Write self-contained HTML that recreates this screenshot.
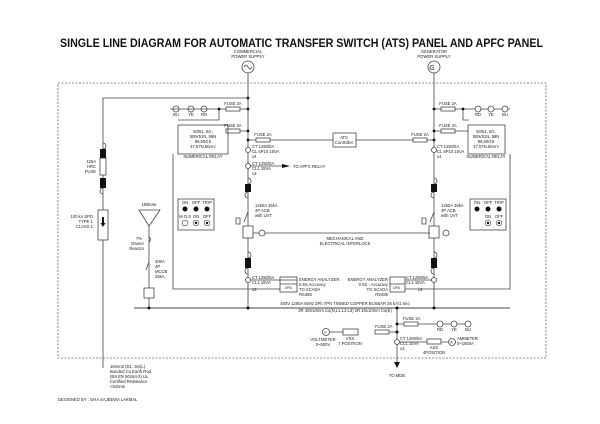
<!DOCTYPE html>
<html><head><meta charset="utf-8"><style>
html,body{margin:0;padding:0;background:#fff}
svg{display:block}
text{font-family:"Liberation Sans",sans-serif;fill:#222}
.s{font-size:4.2px}
</style></head><body>
<svg width="600" height="424" viewBox="0 0 600 424" xmlns="http://www.w3.org/2000/svg">
<rect width="600" height="424" fill="#fff"/>
<text x="60" y="47" textLength="483" lengthAdjust="spacingAndGlyphs" font-size="11.5" font-weight="bold" style="fill:#111">SINGLE LINE DIAGRAM FOR AUTOMATIC TRANSFER SWITCH (ATS) PANEL AND APFC PANEL</text>
<g stroke="#444" stroke-width="0.8" fill="none">
<rect x="58" y="83" width="488" height="275" stroke-dasharray="2,1.5" stroke="#666"/>
<circle cx="248" cy="67" r="6"/><path d="M244 67q2-4 4 0t4 0"/>
<circle cx="434" cy="67" r="6"/>
<path d="M248 73V308M434 73V308"/>
<path d="M248 98H103V368"/>
<path d="M170 109H248M219 109V120H178"/>
<circle cx="176" cy="109" r="3"/><circle cx="191" cy="109" r="3"/><circle cx="204" cy="109" r="3"/>
<rect x="226" y="107" width="14" height="4" fill="#fff"/>
<path d="M228 131H248"/><rect x="226" y="129" width="14" height="4" fill="#fff"/>
<rect x="178" y="125" width="50" height="29"/>
<path d="M248 140H333M356 140H434"/>
<rect x="256" y="138" width="14" height="4" fill="#fff"/>
<rect x="333" y="133" width="23" height="14" fill="#fff"/>
<rect x="413" y="138" width="14" height="4" fill="#fff"/>
<circle cx="248" cy="150" r="2.5" fill="#fff"/>
<circle cx="248" cy="166" r="2.5" fill="#fff"/>
<path d="M250 166H282"/>
<path d="M434 109H510M463 109V120H469"/>
<rect x="441" y="107" width="14" height="4" fill="#fff"/>
<circle cx="478" cy="109" r="3" fill="#fff"/><circle cx="491" cy="109" r="3" fill="#fff"/><circle cx="505" cy="109" r="3" fill="#fff"/>
<path d="M434 131H468"/><rect x="441" y="129" width="14" height="4" fill="#fff"/>
<rect x="468" y="125" width="37" height="29"/>
<circle cx="434" cy="150" r="2.5" fill="#fff"/>
<path d="M173 154V289H280M510 154V289H405"/>
<path d="M248 178a3 3 0 0 1 0 6M248 192a3 3 0 0 0 0 6M434 178a3 3 0 0 1 0 6M434 192a3 3 0 0 0 0 6"/>
<path d="M248 212l-4 10M434 212l-4 10M236 218h4v6h-4zM422 218h4v6h-4z"/>
<rect x="243" y="226" width="10" height="12" fill="#fff"/><rect x="429" y="226" width="10" height="12" fill="#fff"/>
<path d="M253 233H430"/>
<circle cx="262" cy="233" r="3" fill="#fff"/><circle cx="446" cy="233" r="3" fill="#fff"/>
<path d="M248 252a3 3 0 0 1 0 6M248 268a3 3 0 0 0 0 6M434 252a3 3 0 0 1 0 6M434 268a3 3 0 0 0 0 6"/>
<circle cx="248" cy="280" r="2.5" fill="#fff"/><circle cx="434" cy="280" r="2.5" fill="#fff"/>
<rect x="280" y="277" width="17" height="15" fill="#fff"/><path d="M280 284H297"/>
<rect x="390" y="277" width="15" height="15" fill="#fff"/><path d="M390 284H405"/>
<path d="M250 280H297M405 280H432"/>
<rect x="178" y="199" width="36" height="31"/><rect x="470" y="199" width="36" height="31"/>
<path d="M103 143a3 3 0 0 1 0 6M103 188a3 3 0 0 0 0 6"/>
<rect x="100" y="158" width="6" height="17" fill="#fff"/>
<rect x="98" y="210" width="10" height="30" fill="#fff"/>
<path d="M139 210H160L149 226Z"/>
<path d="M149 226V308M149 237a3 3 0 0 1 0 5M149 262l-3 8"/>
<rect x="144" y="288" width="10" height="10" fill="#fff"/>
<path d="M134 308H510" stroke-width="1"/>
<path d="M397 308V362"/>
<path d="M397 324H470M397 332H375M358 332H330M399 342H427M441 342H449"/>
<rect x="404" y="322" width="14" height="4" fill="#fff"/>
<circle cx="440" cy="324" r="3" fill="#fff"/><circle cx="454" cy="324" r="3" fill="#fff"/><circle cx="468" cy="324" r="3" fill="#fff"/>
<rect x="375" y="330" width="14" height="4" fill="#fff"/>
<rect x="343" y="329" width="15" height="6" fill="#fff"/>
<circle cx="326" cy="332" r="3.5" fill="#fff"/>
<circle cx="397" cy="342" r="2.5" fill="#fff"/>
<rect x="427" y="339" width="14" height="5" fill="#fff"/>
<circle cx="452" cy="342" r="3.5" fill="#fff"/>
</g>
<g fill="#111">
<rect x="245" y="184" width="6" height="8"/><rect x="431" y="184" width="6" height="8"/>
<rect x="245" y="258" width="6" height="10"/><rect x="431" y="258" width="6" height="10"/>
<rect x="100" y="149" width="6" height="9"/><rect x="100" y="178" width="6" height="10"/>
<circle cx="248" cy="98" r="1.4"/><circle cx="248" cy="109" r="1.4"/><circle cx="219" cy="109" r="1.4"/>
<circle cx="248" cy="131" r="1.4"/><circle cx="248" cy="140" r="1.4"/>
<circle cx="434" cy="109" r="1.4"/><circle cx="463" cy="109" r="1.4"/><circle cx="434" cy="131" r="1.4"/><circle cx="434" cy="140" r="1.4"/>
<circle cx="149" cy="308" r="1.5"/><circle cx="248" cy="308" r="1.5"/><circle cx="397" cy="308" r="1.5"/><circle cx="434" cy="308" r="1.5"/>
<circle cx="397" cy="324" r="1.5"/><circle cx="397" cy="332" r="1.5"/>
<path d="M282 164l8 2-8 2z"/><path d="M394 362h6l-3 6z"/><path d="M102 217h2v6h1.5l-2.5 4-2.5-4h1.5z"/>
<circle cx="185" cy="209" r="2.5"/><circle cx="196" cy="209" r="2.5"/><circle cx="207" cy="209" r="2.5"/>
<circle cx="477" cy="209" r="2.5"/><circle cx="488" cy="209" r="2.5"/><circle cx="499" cy="209" r="2.5"/>
<circle cx="196" cy="223" r="1.2"/><circle cx="207" cy="223" r="1.2"/><circle cx="488" cy="223" r="1.2"/><circle cx="499" cy="223" r="1.2"/>
</g>
<g fill="none" stroke="#444" stroke-width="0.6">
<circle cx="185" cy="223" r="2.8"/><circle cx="196" cy="223" r="2.8"/><circle cx="207" cy="223" r="2.8"/>
<circle cx="488" cy="223" r="2.8"/><circle cx="499" cy="223" r="2.8"/>
</g>
<g class="s">
<text x="248" y="53" text-anchor="middle">COMMERCIAL</text><text x="248" y="58" text-anchor="middle">POWER SUPPLY</text>
<text x="434" y="53" text-anchor="middle">GENERATOR</text><text x="434" y="58" text-anchor="middle">POWER SUPPLY</text>
<text x="432" y="70" text-anchor="middle" font-size="7">G</text>
<text x="233" y="105" text-anchor="middle">FUSE 2A</text><text x="233" y="127" text-anchor="middle">FUSE 2A</text>
<text x="263" y="136" text-anchor="middle">FUSE 2A</text><text x="420" y="136" text-anchor="middle">FUSE 2A</text>
<text x="448" y="105" text-anchor="middle">FUSE 2A</text><text x="448" y="127" text-anchor="middle">FUSE 2A</text>
<text x="344" y="139" text-anchor="middle">ATS</text><text x="344" y="144" text-anchor="middle">Controller</text>
<text x="176" y="116" text-anchor="middle">BU</text><text x="191" y="116" text-anchor="middle">YE</text><text x="204" y="116" text-anchor="middle">RD</text>
<text x="478" y="116" text-anchor="middle">RD</text><text x="491" y="116" text-anchor="middle">YE</text><text x="505" y="116" text-anchor="middle">BU</text>
<text x="203" y="133" text-anchor="middle">50/51, 6G,</text><text x="203" y="138" text-anchor="middle">50N/51N, 59N</text><text x="203" y="143" text-anchor="middle">86,50GS</text><text x="203" y="148" text-anchor="middle">47,67N,50Arc</text>
<text x="203" y="158" text-anchor="middle">NUMERICAL RELAY</text>
<text x="486" y="133" text-anchor="middle">50/51, 6G,</text><text x="486" y="138" text-anchor="middle">50N/51N, 59N</text><text x="486" y="143" text-anchor="middle">86,50GS</text><text x="486" y="148" text-anchor="middle">47,67N,50Arc</text>
<text x="486" y="158" text-anchor="middle">NUMERICAL RELAY</text>
<text x="252" y="148">CT 1250/5A</text><text x="252" y="153">CL 5P10 15VA</text><text x="252" y="158">x4</text>
<text x="437" y="148">CT 1250/5A</text><text x="437" y="153">CL 5P10 15VA</text><text x="437" y="158">x4</text>
<text x="252" y="165">CT 1250/5A</text><text x="252" y="170">CL1 15VA</text><text x="252" y="175">x3</text>
<text x="293" y="168">TO APFC RELAY</text>
<text x="255" y="207">1250A 35kA</text><text x="255" y="212">4P ACB</text><text x="255" y="217">with UVT</text>
<text x="441" y="207">1250A 35kA</text><text x="441" y="212">4P ACB</text><text x="441" y="217">with UVT</text>
<text x="345" y="240" text-anchor="middle">MECHANICAL AND</text><text x="345" y="245" text-anchor="middle">ELECTRICAL INTERLOCK</text>
<text x="252" y="279">CT 1250/5A</text><text x="252" y="284">CL1 15VA</text><text x="252" y="291">x3</text>
<text x="406" y="279">CT 1250/5A</text><text x="406" y="284">CL1 15VA</text><text x="418" y="291">x3</text>
<text x="299" y="281">ENERGY ANALYZER</text><text x="299" y="286">0.5S Accuracy</text><text x="299" y="291">TO SCADA</text><text x="299" y="296">RS485</text>
<text x="388" y="281" text-anchor="end">ENERGY ANALYZER</text><text x="388" y="286" text-anchor="end">0.5S - Accuracy</text><text x="388" y="291" text-anchor="end">TO SCADA</text><text x="388" y="296" text-anchor="end">RS485</text>
<text x="285" y="289" font-size="3.5">DPA</text><text x="393" y="289" font-size="3.5">DPA</text>
<text x="345" y="305" text-anchor="middle">400V 1250A 50Hz 3Ph TPN TINNED COPPER BUSBAR 36 kA/1 Sec</text>
<text x="345" y="312" text-anchor="middle">2R 40X10mm Cu(N,L1,L2,L3) 2R 10x10mm  Cu(E)</text>
<text x="96" y="163" text-anchor="end">125A</text><text x="96" y="168" text-anchor="end">HRC</text><text x="96" y="173" text-anchor="end">FUSE</text>
<text x="93" y="218" text-anchor="end">100 kA SPD</text><text x="93" y="223" text-anchor="end">TYPE 1</text><text x="93" y="228" text-anchor="end">CLASS 1</text>
<text x="149" y="206" text-anchor="middle">160kVar</text>
<text x="142" y="240" text-anchor="end">7%</text><text x="144" y="245" text-anchor="end">Dtuner</text><text x="144" y="250" text-anchor="end">Reactor</text>
<text x="155" y="263">400A</text><text x="155" y="268">4P</text><text x="155" y="273">MCCB</text><text x="155" y="278">25kA</text>
<text x="185" y="204" text-anchor="middle">ON</text><text x="196" y="204" text-anchor="middle">OFF</text><text x="207" y="204" text-anchor="middle">TRIP</text>
<text x="477" y="204" text-anchor="middle">ON</text><text x="488" y="204" text-anchor="middle">OFF</text><text x="499" y="204" text-anchor="middle">TRIP</text>
<text x="488" y="218" text-anchor="middle">ON</text><text x="499" y="218" text-anchor="middle">OFF</text>
<text x="185" y="218" text-anchor="middle">M.O.S</text><text x="196" y="218" text-anchor="middle">ON</text><text x="207" y="218" text-anchor="middle">OFF</text>
<text x="403" y="320">FUSE 2A</text><text x="375" y="328">FUSE 2A</text>
<text x="440" y="331" text-anchor="middle">RD</text><text x="454" y="331" text-anchor="middle">YE</text><text x="468" y="331" text-anchor="middle">BU</text>
<text x="324" y="333.5" font-size="4">V</text><text x="450" y="343.5" font-size="4">A</text>
<text x="323" y="341" text-anchor="middle">VOLTMETER</text><text x="323" y="346" text-anchor="middle">0~500V</text>
<text x="350" y="340" text-anchor="middle">VSS</text><text x="350" y="345" text-anchor="middle">7 POSITION</text>
<text x="400" y="340">CT 1250/5A</text><text x="400" y="345">CL1 15VA</text><text x="400" y="350">x3</text>
<text x="434" y="349" text-anchor="middle">ASS</text><text x="434" y="354" text-anchor="middle">4POSITION</text>
<text x="457" y="340">AMMETER</text><text x="457" y="345">0~1500A</text>
<text x="397" y="377" text-anchor="middle">TO MDB</text>
<text x="110" y="368">16mm2 (D1, 3m(L)</text><text x="110" y="373">Bonded Cu Earth Rod</text><text x="110" y="378">(BS EN 50164-2) UL</text><text x="110" y="383">Certified Resistance</text><text x="110" y="388">&lt;5ohms</text>
<text x="58" y="401">DESIGNED BY : GHA SAJEEWA LAKMAL</text>
</g>
</svg>
</body></html>
